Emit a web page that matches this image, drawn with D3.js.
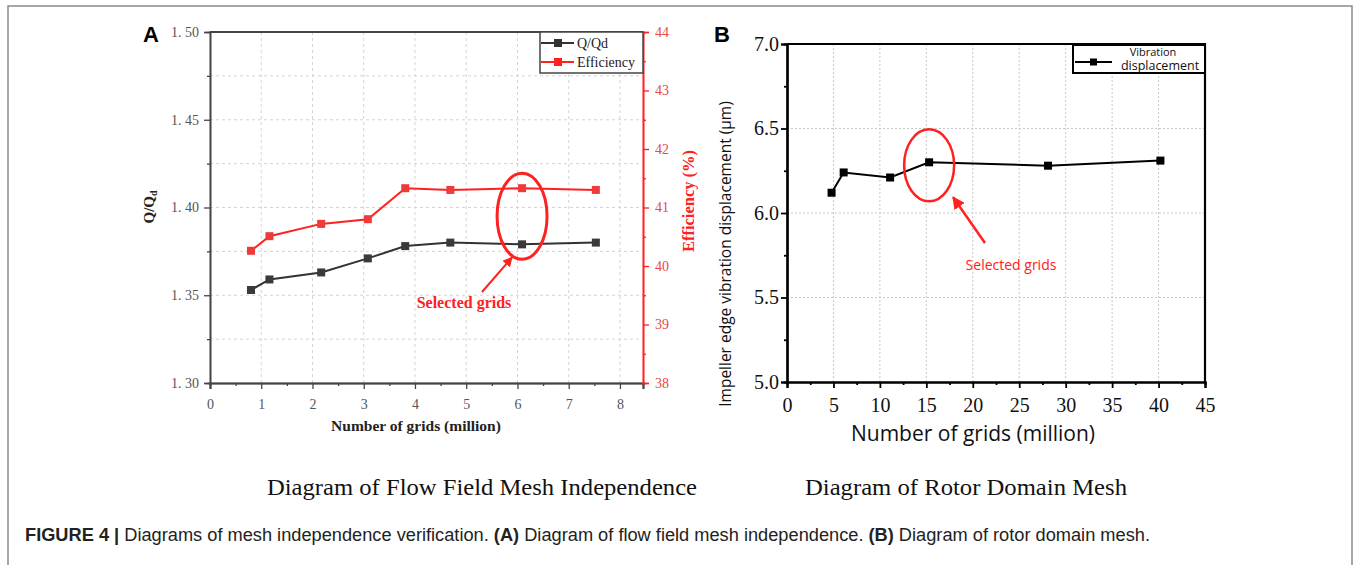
<!DOCTYPE html>
<html>
<head>
<meta charset="utf-8">
<script src="https://cdn.jsdelivr.net/npm/d3@7"></script>
<style>
  body { margin: 0; background: #fff; }
  svg { display: block; }
</style>
</head>
<body>
<svg id="canvas" width="1356" height="565"></svg>
<script>
// Panel A: flow field mesh independence
let gridsA = [0.8, 1.16, 2.17, 3.08, 3.81, 4.69, 6.09, 7.53];
let qRatio = [1.353, 1.359, 1.363, 1.371, 1.378, 1.380, 1.379, 1.380];
let efficiency = [40.26, 40.51, 40.72, 40.8, 41.33, 41.3, 41.33, 41.3];
let selectedA = 6; // index of the chosen mesh

// Panel B: rotor domain mesh
let gridsB = [4.8, 6.1, 11.1, 15.3, 28.1, 40.2];
let vibration = [6.12, 6.24, 6.21, 6.30, 6.28, 6.31];
let selectedB = 3;

let ticksQ = [1.30, 1.35, 1.40, 1.45, 1.50];
let ticksEff = [38, 39, 40, 41, 42, 43, 44];
let ticksXA = [0, 1, 2, 3, 4, 5, 6, 7, 8];
let ticksVib = [5.0, 5.5, 6.0, 6.5, 7.0];
let ticksXB = [0, 5, 10, 15, 20, 25, 30, 35, 40, 45];

let svg = d3.select("#canvas");
let serif = "'Liberation Serif', 'DejaVu Serif', serif";
let sans = "'Liberation Sans', Arial, sans-serif";
let myriad = "'Open Sans', 'Noto Sans', sans-serif";
let red = "#ff2020";

// outer frame of the figure
svg.append("rect")
  .attr("x", 8).attr("y", 6)
  .attr("width", 1344).attr("height", 600)
  .attr("fill", "none").attr("stroke", "#8a8a8a").attr("stroke-width", 1.5);

// ---------- panel A ----------
let xA = d3.scaleLinear().domain([0, 8.45]).range([210, 643]);
let yA = d3.scaleLinear().domain([1.30, 1.50]).range([383, 32]);
let yE = d3.scaleLinear().domain([38, 44]).range([383, 32]);

let gA = svg.append("g");

// dashed grid
gA.selectAll(".hgrid")
  .data(d3.range(1.325, 1.5, 0.025))
  .enter().append("line")
  .attr("x1", xA(0)).attr("x2", xA(8.45))
  .attr("y1", (d) => yA(d)).attr("y2", (d) => yA(d))
  .attr("stroke", "#d4d4d4").attr("stroke-dasharray", "3,3");
gA.selectAll(".vgrid")
  .data(ticksXA.slice(1))
  .enter().append("line")
  .attr("x1", (d) => xA(d)).attr("x2", (d) => xA(d))
  .attr("y1", yA(1.30)).attr("y2", yA(1.50))
  .attr("stroke", "#d4d4d4").attr("stroke-dasharray", "3,3");

let fmtA = (d) => d3.format(".2f")(d).replace(".", ". ");

let axLeftA = gA.append("g").attr("transform", `translate(${xA(0)},0)`)
  .call(d3.axisLeft(yA).tickValues(ticksQ).tickFormat(fmtA).tickSize(6).tickPadding(5));
let axLeftMinorA = gA.append("g").attr("transform", `translate(${xA(0)},0)`)
  .call(d3.axisLeft(yA).tickValues(d3.range(1.325, 1.5, 0.05)).tickFormat("").tickSize(3));
let axBottomA = gA.append("g").attr("transform", `translate(0,${yA(1.30)})`)
  .call(d3.axisBottom(xA).tickValues(ticksXA).tickSize(6).tickPadding(10));
let axBottomMinorA = gA.append("g").attr("transform", `translate(0,${yA(1.30)})`)
  .call(d3.axisBottom(xA).tickValues(d3.range(0.5, 8.5, 1)).tickFormat("").tickSize(3));
let axRightA = gA.append("g").attr("transform", `translate(${xA(8.45)},0)`)
  .call(d3.axisRight(yE).tickValues(ticksEff).tickFormat(d3.format("d")).tickSize(6).tickPadding(6));
let axRightMinorA = gA.append("g").attr("transform", `translate(${xA(8.45)},0)`)
  .call(d3.axisRight(yE).tickValues(d3.range(38.5, 44, 1)).tickFormat("").tickSize(3));

[axLeftA, axLeftMinorA, axBottomA, axBottomMinorA].forEach((ax) => {
  ax.selectAll("path").attr("stroke", "#444").attr("stroke-width", 1.6);
  ax.selectAll("line").attr("stroke", "#444").attr("stroke-width", 1.3);
  ax.selectAll("text").attr("font-family", serif).attr("font-size", 14).attr("fill", "#555");
});
axBottomA.select("path").attr("stroke-width", 2.2);
[axRightA, axRightMinorA].forEach((ax) => {
  ax.selectAll("path").attr("stroke", red).attr("stroke-width", 1.6);
  ax.selectAll("line").attr("stroke", red).attr("stroke-width", 1.3);
  ax.selectAll("text").attr("font-family", serif).attr("font-size", 14).attr("fill", "#e84848");
});

// top border of the frame
gA.append("line")
  .attr("x1", xA(0)).attr("x2", xA(8.45))
  .attr("y1", yA(1.50)).attr("y2", yA(1.50))
  .attr("stroke", "#444").attr("stroke-width", 2.2);

// Q/Qd series
let lineQ = d3.line().x((d, i) => xA(gridsA[i])).y((d) => yA(d));
gA.append("path").datum(qRatio)
  .attr("d", lineQ).attr("fill", "none").attr("stroke", "#333").attr("stroke-width", 2);
gA.selectAll(".mq").data(qRatio).enter().append("rect")
  .attr("x", (d, i) => xA(gridsA[i]) - 4).attr("y", (d) => yA(d) - 4)
  .attr("width", 8).attr("height", 8).attr("fill", "#3a3a3a");

// efficiency series
let lineE = d3.line().x((d, i) => xA(gridsA[i])).y((d) => yE(d));
gA.append("path").datum(efficiency)
  .attr("d", lineE).attr("fill", "none").attr("stroke", red).attr("stroke-width", 2);
gA.selectAll(".me").data(efficiency).enter().append("rect")
  .attr("x", (d, i) => xA(gridsA[i]) - 4).attr("y", (d) => yE(d) - 4)
  .attr("width", 8).attr("height", 8).attr("fill", "#f03a3a");

// legend
let legA = gA.append("g");
legA.append("rect")
  .attr("x", 540).attr("y", yA(1.50)).attr("width", xA(8.45) - 540).attr("height", 41)
  .attr("fill", "#fff").attr("stroke", "#444").attr("stroke-width", 1.5);
[["Q/Qd", "#333", 43], ["Efficiency", red, 62]].forEach(([name, col, y]) => {
  legA.append("line").attr("x1", 541).attr("x2", 574).attr("y1", y).attr("y2", y)
    .attr("stroke", col).attr("stroke-width", 2);
  legA.append("rect").attr("x", 554).attr("y", y - 4).attr("width", 8).attr("height", 8).attr("fill", col);
  legA.append("text").attr("x", 577).attr("y", y + 4.5)
    .attr("font-family", serif).attr("font-size", 14).attr("fill", "#222").text(name);
});

// axis titles
gA.append("text")
  .attr("x", 416).attr("y", 431).attr("text-anchor", "middle")
  .attr("font-family", serif).attr("font-size", 15.5).attr("font-weight", "bold").attr("fill", "#222")
  .text("Number of grids (million)");
let qTitle = gA.append("text")
  .attr("transform", "translate(154,207) rotate(-90)").attr("text-anchor", "middle")
  .attr("font-family", serif).attr("font-size", 15).attr("font-weight", "bold").attr("fill", "#222");
qTitle.append("tspan").text("Q/Q");
qTitle.append("tspan").attr("font-size", 10).attr("dy", 3).text("d");
gA.append("text")
  .attr("transform", "translate(694,201) rotate(-90)").attr("text-anchor", "middle")
  .attr("font-family", serif).attr("font-size", 16.5).attr("font-weight", "bold").attr("fill", red)
  .text("Efficiency (%)");

// selected-grid annotation
let cxA = xA(gridsA[selectedA]);
let cyA = (yA(qRatio[selectedA]) + yE(efficiency[selectedA])) / 2;
gA.append("ellipse")
  .attr("cx", cxA).attr("cy", cyA).attr("rx", 25).attr("ry", 43)
  .attr("fill", "none").attr("stroke", red).attr("stroke-width", 3);

svg.append("defs").append("marker")
  .attr("id", "arrow").attr("viewBox", "0 0 10 10")
  .attr("refX", 9).attr("refY", 5)
  .attr("markerWidth", 5).attr("markerHeight", 5)
  .attr("orient", "auto")
  .append("path").attr("d", "M0,0 L10,5 L0,10 z").attr("fill", red);

gA.append("line")
  .attr("x1", 482).attr("y1", 292).attr("x2", cxA - 10).attr("y2", cyA + 41)
  .attr("stroke", red).attr("stroke-width", 2).attr("marker-end", "url(#arrow)");
gA.append("text")
  .attr("x", 464).attr("y", 308).attr("text-anchor", "middle")
  .attr("font-family", serif).attr("font-size", 16).attr("font-weight", "bold").attr("fill", red)
  .text("Selected grids");

gA.append("text")
  .attr("x", 143).attr("y", 42)
  .attr("font-family", sans).attr("font-size", 22).attr("font-weight", "bold").attr("fill", "#000")
  .text("A");

// ---------- panel B ----------
let xB = d3.scaleLinear().domain([0, 45]).range([787, 1205]);
let yB = d3.scaleLinear().domain([5, 7]).range([382, 44]);
let gB = svg.append("g");

// dotted grid
gB.selectAll(".hgrid").data([5.5, 6.0, 6.5]).enter().append("line")
  .attr("x1", xB(0)).attr("x2", xB(45))
  .attr("y1", (d) => yB(d)).attr("y2", (d) => yB(d))
  .attr("stroke", "#c8c8c8").attr("stroke-dasharray", "2,2");
gB.selectAll(".vgrid").data(ticksXB.slice(1, -1)).enter().append("line")
  .attr("x1", (d) => xB(d)).attr("x2", (d) => xB(d))
  .attr("y1", yB(5)).attr("y2", yB(7))
  .attr("stroke", "#c8c8c8").attr("stroke-dasharray", "2,2");

let axLeftB = gB.append("g").attr("transform", `translate(${xB(0)},0)`)
  .call(d3.axisLeft(yB).tickValues(ticksVib).tickFormat(d3.format(".1f")).tickSize(6).tickPadding(2));
let axLeftMinorB = gB.append("g").attr("transform", `translate(${xB(0)},0)`)
  .call(d3.axisLeft(yB).tickValues([5.25, 5.75, 6.25, 6.75]).tickFormat("").tickSize(3));
let axBottomB = gB.append("g").attr("transform", `translate(0,${yB(5)})`)
  .call(d3.axisBottom(xB).tickValues(ticksXB).tickSize(6).tickPadding(10));
let axBottomMinorB = gB.append("g").attr("transform", `translate(0,${yB(5)})`)
  .call(d3.axisBottom(xB).tickValues(d3.range(2.5, 45, 5)).tickFormat("").tickSize(3));
[axLeftB, axLeftMinorB, axBottomB, axBottomMinorB].forEach((ax) => {
  ax.selectAll("path").attr("stroke", "#000").attr("stroke-width", 2.2);
  ax.selectAll("line").attr("stroke", "#000").attr("stroke-width", 1.8);
  ax.selectAll("text").attr("font-family", serif).attr("font-size", 20).attr("fill", "#111");
});

// top and right borders
gB.append("path")
  .attr("d", `M${xB(0)},${yB(7)}H${xB(45)}V${yB(5)}`)
  .attr("fill", "none").attr("stroke", "#000").attr("stroke-width", 2.2);

let lineB = d3.line().x((d, i) => xB(gridsB[i])).y((d) => yB(d));
gB.append("path").datum(vibration)
  .attr("d", lineB).attr("fill", "none").attr("stroke", "#000").attr("stroke-width", 2);
gB.selectAll(".mv").data(vibration).enter().append("rect")
  .attr("x", (d, i) => xB(gridsB[i]) - 4).attr("y", (d) => yB(d) - 4)
  .attr("width", 8).attr("height", 8).attr("fill", "#000");

// legend
let legB = gB.append("g");
legB.append("rect")
  .attr("x", 1073).attr("y", 45).attr("width", xB(45) - 1073).attr("height", 28)
  .attr("fill", "#fff").attr("stroke", "#000").attr("stroke-width", 2);
legB.append("line").attr("x1", 1075).attr("x2", 1112).attr("y1", 62).attr("y2", 62)
  .attr("stroke", "#000").attr("stroke-width", 2);
legB.append("rect").attr("x", 1090).attr("y", 58.5).attr("width", 7).attr("height", 7).attr("fill", "#000");
legB.append("text").attr("x", 1153).attr("y", 56).attr("text-anchor", "middle")
  .attr("font-family", myriad).attr("font-size", 11).attr("fill", "#111").text("Vibration");
legB.append("text").attr("x", 1160).attr("y", 69.5).attr("text-anchor", "middle")
  .attr("font-family", myriad).attr("font-size", 12.5).attr("fill", "#111").text("displacement");

gB.append("text")
  .attr("x", 973).attr("y", 441).attr("text-anchor", "middle")
  .attr("font-family", myriad).attr("font-size", 21).attr("fill", "#111")
  .text("Number of grids (million)");
gB.append("text")
  .attr("transform", "translate(731,254) rotate(-90)").attr("text-anchor", "middle")
  .attr("font-family", myriad).attr("font-size", 15.5).attr("fill", "#111")
  .text("Impeller edge vibration displacement  (μm)");

let cxB = xB(gridsB[selectedB]);
let cyB = yB(vibration[selectedB]) + 3;
gB.append("ellipse")
  .attr("cx", cxB).attr("cy", cyB).attr("rx", 25).attr("ry", 36)
  .attr("fill", "none").attr("stroke", red).attr("stroke-width", 2.5);
gB.append("line")
  .attr("x1", 985).attr("y1", 243).attr("x2", cxB + 24).attr("y2", cyB + 32)
  .attr("stroke", red).attr("stroke-width", 2.5).attr("marker-end", "url(#arrow)");
gB.append("text")
  .attr("x", 1011).attr("y", 270).attr("text-anchor", "middle")
  .attr("font-family", myriad).attr("font-size", 14).attr("fill", red)
  .text("Selected grids");

gB.append("text")
  .attr("x", 714).attr("y", 42)
  .attr("font-family", sans).attr("font-size", 22).attr("font-weight", "bold").attr("fill", "#000")
  .text("B");

// panel subtitles
svg.append("text")
  .attr("x", 267).attr("y", 495)
  .attr("textLength", 430).attr("lengthAdjust", "spacingAndGlyphs")
  .attr("font-family", serif).attr("font-size", 23).attr("fill", "#111")
  .text("Diagram of Flow Field Mesh Independence");
svg.append("text")
  .attr("x", 805).attr("y", 495)
  .attr("textLength", 322).attr("lengthAdjust", "spacingAndGlyphs")
  .attr("font-family", serif).attr("font-size", 23).attr("fill", "#111")
  .text("Diagram of Rotor Domain Mesh");

// figure caption
let cap = svg.append("text")
  .attr("x", 25).attr("y", 541)
  .attr("textLength", 1125).attr("lengthAdjust", "spacingAndGlyphs")
  .attr("font-family", sans).attr("font-size", 17.5).attr("fill", "#222");
cap.append("tspan").attr("font-weight", "bold").text("FIGURE 4 | ");
cap.append("tspan").text("Diagrams of mesh independence verification. ");
cap.append("tspan").attr("font-weight", "bold").text("(A)");
cap.append("tspan").text(" Diagram of flow field mesh independence. ");
cap.append("tspan").attr("font-weight", "bold").text("(B)");
cap.append("tspan").text(" Diagram of rotor domain mesh.");
</script>
</body>
</html>
